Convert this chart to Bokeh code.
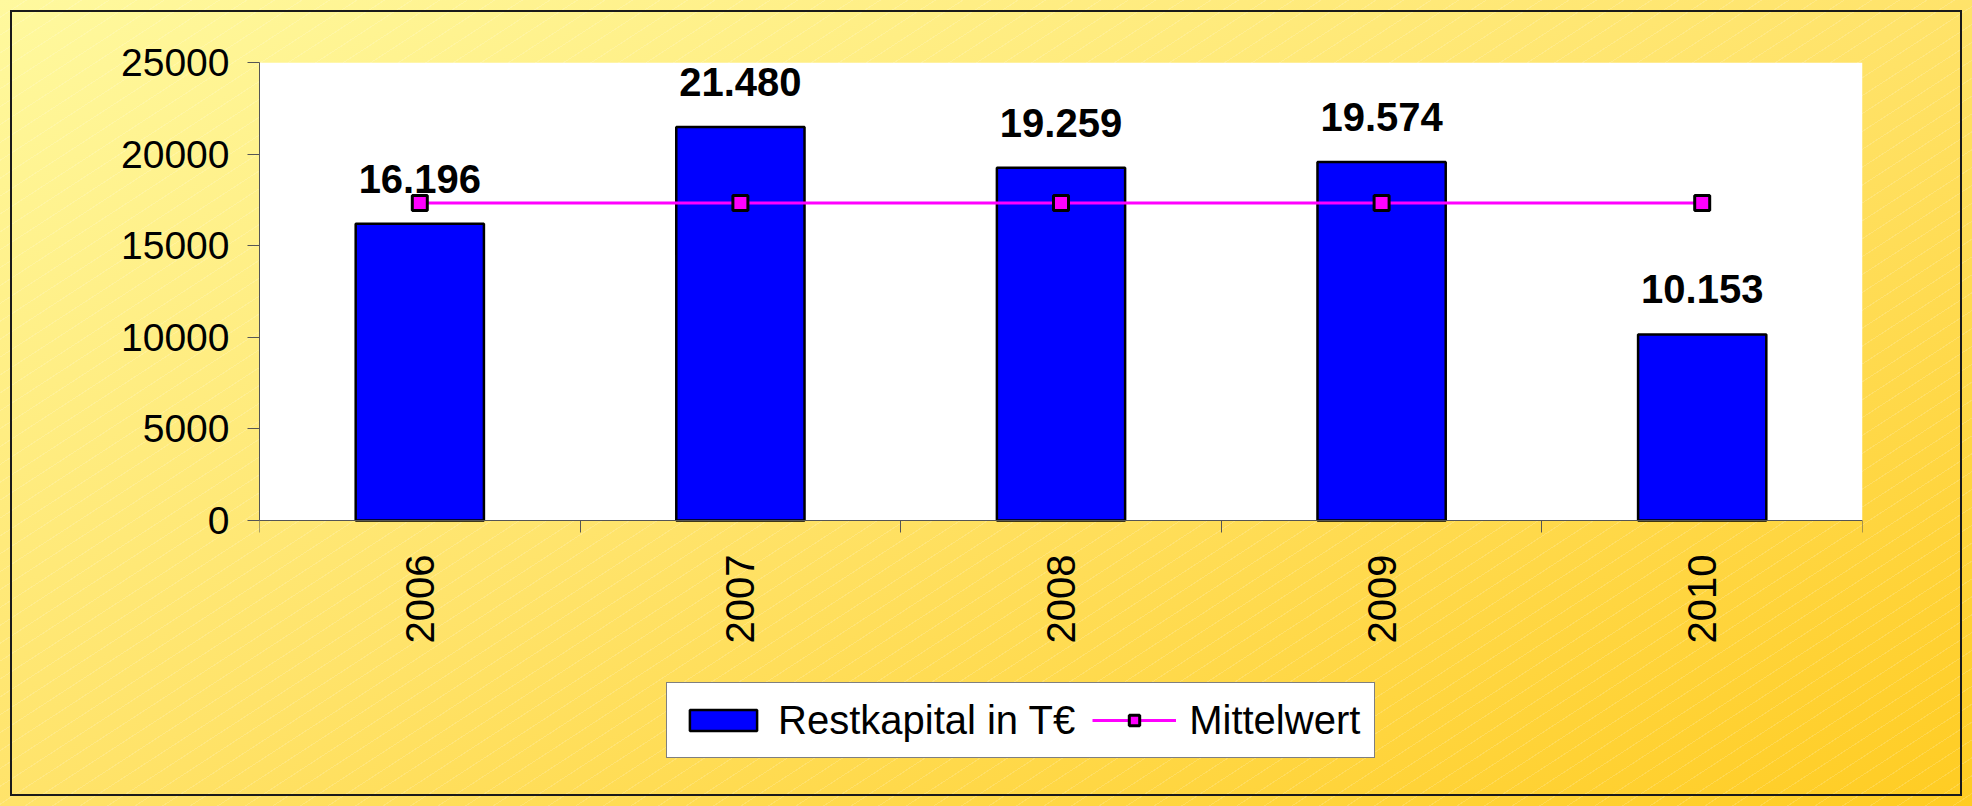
import math
from bokeh.plotting import figure
from bokeh.models import (FixedTicker, Legend, LegendItem, Range1d, ColumnDataSource,
                          NumeralTickFormatter, BoxAnnotation)
from bokeh.embed import file_html
from bokeh.resources import INLINE
from bokeh.core.properties import value

# ---- data ----
years = ["2006", "2007", "2008", "2009", "2010"]
restkapital = [16196, 21480, 19259, 19574, 10153]
mittelwert = [17332, 17332, 17332, 17332, 17332]
y_ticks = [0, 5000, 10000, 15000, 20000, 25000]
y_max = 25000

x_pos = [i + 0.5 for i in range(len(years))]
bounds = list(range(len(years) + 1))
labels = [f"{v:,}".replace(",", ".") for v in restkapital]

src = ColumnDataSource(dict(x=x_pos, top=restkapital, label=labels, mw=mittelwert))

FONT = "Liberation Sans"

# ---- layout (pixels) ----
W, H = 1972, 806
B_LEFT, B_RIGHT, B_TOP, B_BOTTOM = 259, 110, 62, 36
PLOT_H = 458                      # pixel height of the 0..25000 value area
FRAME_H = H - B_TOP - B_BOTTOM
y_min = -y_max * (FRAME_H - PLOT_H) / PLOT_H   # room below the axis for labels/legend

p = figure(width=W, height=H, output_backend="svg", toolbar_location=None,
           x_range=Range1d(0, len(years)), y_range=Range1d(y_min, y_max),
           min_border_left=B_LEFT, min_border_right=B_RIGHT, min_border_top=B_TOP,
           min_border_bottom=B_BOTTOM)

p.border_fill_color = None
p.background_fill_color = None
p.outline_line_color = None
p.grid.visible = False
p.styles = {
    "background": ("repeating-linear-gradient(147deg, rgba(255,255,255,0) 0px, "
                   "rgba(255,255,255,0) 14px, rgba(255,255,255,0.16) 14px, "
                   "rgba(255,255,255,0.16) 15px), "
                   "linear-gradient(to bottom right, #FFF99E, #FFE36A 50%, #FFCC22)"),
    "outline": "2px solid #1a1a1a",
    "outline-offset": "-12px",
}

# white plot area
p.add_layout(BoxAnnotation(left=0, right=len(years), bottom=0, top=y_max,
                           fill_color="white", fill_alpha=1.0, line_color=None,
                           level="underlay"))

bars = p.vbar(x="x", top="top", width=0.4, source=src, fill_color="#0000FF",
              line_color="black", line_width=2.5)
line = p.line(x="x", y="mw", source=src, line_color="#FF00FF", line_width=3)
marks = p.scatter(x="x", y="mw", source=src, marker="square", size=15,
                  fill_color="#FF00FF", line_color="black", line_width=3)

p.text(x="x", y="top", text="label", source=src, text_align="center",
       text_baseline="alphabetic", y_offset=-45, text_font=value(FONT),
       text_font_style="bold", text_font_size="40px", text_color="black")

# x axis (drawn at value 0)
xa = p.xaxis[0]
xa.fixed_location = 0
xa.ticker = FixedTicker(ticks=x_pos, minor_ticks=bounds)
xa.major_label_overrides = {x: y for x, y in zip(x_pos, years)}
xa.major_tick_out = 0
xa.major_tick_in = 0
xa.minor_tick_out = 12
xa.minor_tick_in = 0
xa.minor_tick_line_color = "#555555"
xa.axis_line_color = "#555555"
xa.major_label_orientation = math.pi / 2
xa.major_label_standoff = 22
xa.major_label_text_font = FONT
xa.major_label_text_font_size = "40px"
xa.major_label_text_color = "black"

# y axis
ya = p.yaxis[0]
ya.bounds = (0, y_max)
ya.ticker = FixedTicker(ticks=y_ticks, minor_ticks=[])
ya.formatter = NumeralTickFormatter(format="0")
ya.major_tick_out = 12
ya.major_tick_in = 0
ya.major_tick_line_color = "#555555"
ya.axis_line_color = "#555555"
ya.major_label_standoff = 18
ya.major_label_text_font = FONT
ya.major_label_text_font_size = "39px"
ya.major_label_text_color = "black"

legend = Legend(items=[LegendItem(label="Restkapital in T€", renderers=[bars]),
                       LegendItem(label="Mittelwert", renderers=[line, marks])],
                location=(407, 12), orientation="horizontal",
                label_text_font=FONT, label_text_font_size="40px",
                label_text_color="black", label_height=46,
                glyph_width=84, glyph_height=26, label_standoff=13, spacing=17,
                padding=14, margin=0, border_line_color="black",
                border_line_width=1.5, background_fill_color="white",
                background_fill_alpha=1.0)
p.add_layout(legend, "center")

open("out.html", "w").write(file_html(p, INLINE))
